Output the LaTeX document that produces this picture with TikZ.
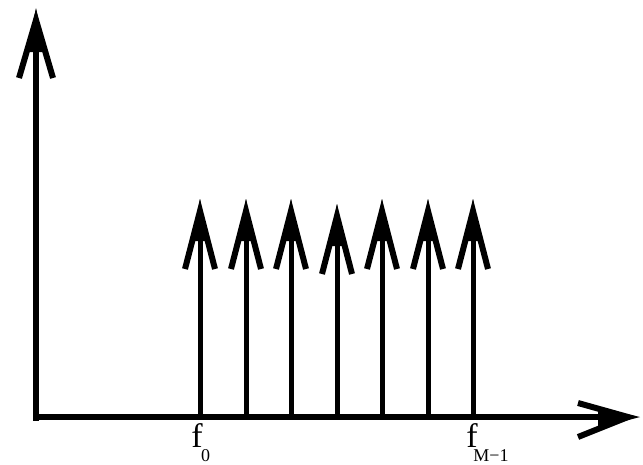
\documentclass[tikz,border=0pt]{standalone}
\usepackage{fontspec}
\setmainfont{Liberation Serif}
\begin{document}
\begin{tikzpicture}[x=1pt,y=-1pt,
  axisline/.style={line width=6.5pt},
  shaft/.style={line width=5pt},
  barb/.style={line width=6pt,line join=miter,miter limit=20},
  flabel/.style={font=\fontsize{34}{34}\selectfont,inner sep=0pt,anchor=base},
  sublabel/.style={font=\fontsize{18}{18}\selectfont,inner sep=0pt,anchor=base}]
\useasboundingbox (0,0) rectangle (643,464);
% axes
\coordinate (ytip) at (36,8);
\coordinate (xtip) at (640,417);
\coordinate (xstart) at (33,417);
\coordinate (ystart) at (36,420.5);
\coordinate (yend) at (36,40);
\coordinate (xend) at (610,417);
\draw[axisline] (ystart) -- (yend);
\draw[axisline] (xstart) -- (xend);
\draw[barb,shift={(ytip)}] (-17,70) -- (0,12) -- (17,70);
\fill[shift={(ytip)}] (0,0) -- (-9,44) -- (9,44) -- cycle;
\draw[barb,shift={(xtip)}] (-62,-14) -- (-12,0) -- (-62,20);
\fill[shift={(xtip)}] (0,0) -- (-42,-9) -- (-42,11) -- cycle;
% spectral lines
\foreach \i/\x/\t in {1/200/199,2/246/199,3/291/199,4/337/204,5/382/199,6/428/199,7/473/199}{
  \coordinate (b\i) at (\x,417);
  \coordinate (t\i) at (\x,\t+30);
  \draw[shaft] (b\i) -- (t\i);
  \draw[barb,shift={(\x,\t)}] (-15,70) -- (0,12) -- (15,70);
  \fill[shift={(\x,\t)}] (0,0) -- (-8,42) -- (8,42) -- cycle;
}
% labels
\node[flabel] (f0) at (197,447) {f};
\node[sublabel] (s0) at (205.5,461) {0};
\node[flabel] (fM) at (472,447) {f};
\node[sublabel] (sM) at (491,461) {M−1};
\end{tikzpicture}
\end{document}
